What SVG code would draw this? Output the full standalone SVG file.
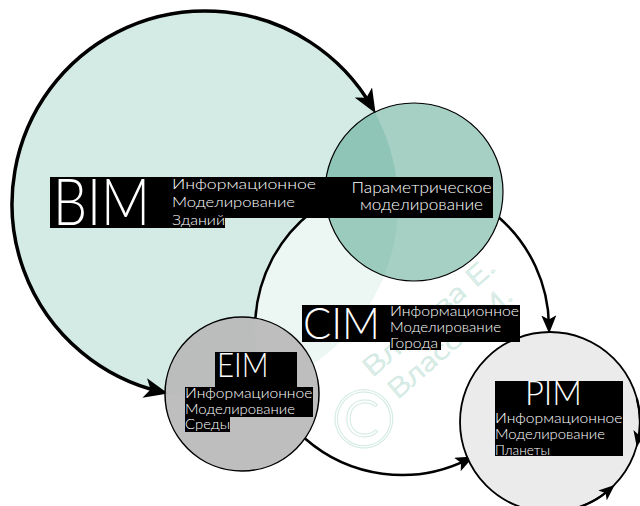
<svg xmlns="http://www.w3.org/2000/svg" width="640" height="506" viewBox="0 0 640 506">
<style>
.lbl{fill:#fff;font-family:Lato,"Liberation Sans",sans-serif;font-weight:300}
.big{fill:#fff;font-family:Lato,"Liberation Sans",sans-serif;font-weight:300}
.box{fill:#000}
.wm{fill:none;stroke:#d3eae3;stroke-width:1;font-family:Lato,"Liberation Sans",sans-serif;font-weight:300}
.arcL{fill:none;stroke:#000;stroke-width:3.5}
.arcM{fill:none;stroke:#000;stroke-width:2.5}
.arcS{fill:none;stroke:#000;stroke-width:2.2}
</style>
<defs>
<marker id="ahL" markerUnits="userSpaceOnUse" markerWidth="24" markerHeight="20" viewBox="0 0 24 20" refX="16" refY="10" orient="auto-start-reverse"><path d="M0,0 L24,10 L0,20 L6,10 Z" fill="#000"/></marker>
<marker id="ahM" markerUnits="userSpaceOnUse" markerWidth="18" markerHeight="15" viewBox="0 0 18 15" refX="10" refY="7.5" orient="auto"><path d="M0,0 L18,7.5 L0,15 L4,7.5 Z" fill="#000"/></marker>
<marker id="ahS" markerUnits="userSpaceOnUse" markerWidth="16" markerHeight="13" viewBox="0 0 16 13" refX="8" refY="6.5" orient="auto"><path d="M0,0 L16,6.5 L0,13 L4,6.5 Z" fill="#000"/></marker>
</defs>
<rect width="640" height="506" fill="#fff"/>
<g id="bim">
<circle cx="205" cy="204" r="193" fill="#d4ebe5"/>
</g>
<g id="cim">
<circle cx="402" cy="328" r="147" fill="#fff" fill-opacity="0.55"/>
</g>
<g id="connectors">
<path class="arcL" d="M371.5,106.3 A193,193 0 1 0 160.3,391.7" marker-start="url(#ahL)" marker-end="url(#ahL)"/>
<path class="arcM" d="M311.7,212 A147,147 0 0 0 255.4,318.1"/>
<path class="arcM" d="M305,438.5 A147,147 0 0 0 466.4,460.1" marker-end="url(#ahM)"/>
<path class="arcM" d="M499.2,217.7 A147,147 0 0 1 549,325.4" marker-end="url(#ahM)"/>
</g>
<g id="param">
<circle cx="414" cy="192" r="89" fill="#3a977c" fill-opacity="0.45" stroke="#000" stroke-width="1.2"/>
</g>
<g id="eim">
<circle cx="242" cy="394" r="77" fill="#b8b8b8" fill-opacity="0.92" stroke="#000" stroke-width="1.5"/>
</g>
<g id="pim">
<circle cx="550" cy="422" r="90" fill="#ebebeb" stroke="#000" stroke-width="1.8"/>
<path class="arcS" d="M636.9,398.7 A90,90 0 0 1 638.3,439.2" marker-end="url(#ahS)"/>
<path class="arcS" d="M565.6,510.6 A90,90 0 0 0 608.6,490.3" marker-end="url(#ahS)"/>
</g>
<g id="watermark">
<text class="wm" font-size="26" transform="translate(372,378) rotate(-41)" textLength="165" lengthAdjust="spacingAndGlyphs">Власова Е.</text>
<text class="wm" font-size="26" transform="translate(397,400) rotate(-41)" textLength="155" lengthAdjust="spacingAndGlyphs">Власов М.</text>
<text class="wm" font-size="80" text-anchor="middle" x="364" y="447">©</text>
</g>
<g id="bim-label">
<path class="box" d="M50,177 H493 V218 H225 V228 H50 Z"/>
<text class="big" x="53" y="225" font-size="65" textLength="97" lengthAdjust="spacingAndGlyphs">BIM</text>
<text class="lbl" x="172" y="188.5" font-size="14" textLength="144" lengthAdjust="spacingAndGlyphs">Информационное</text>
<text class="lbl" x="172" y="207" font-size="14" textLength="123" lengthAdjust="spacingAndGlyphs">Моделирование</text>
<text class="lbl" x="172" y="224.5" font-size="14" textLength="53" lengthAdjust="spacingAndGlyphs">Зданий</text>
</g>
<g id="param-label">
<text class="lbl" x="351.5" y="192.5" font-size="15" textLength="140" lengthAdjust="spacingAndGlyphs">Параметрическое</text>
<text class="lbl" x="360" y="209.5" font-size="15" textLength="123" lengthAdjust="spacingAndGlyphs">моделирование</text>
</g>
<g id="cim-label">
<path class="box" d="M302,305 H520 V342 H441 V350 H390 V342 H302 Z"/>
<text class="big" x="303" y="338.5" font-size="44" textLength="77" lengthAdjust="spacingAndGlyphs">CIM</text>
<text class="lbl" x="390" y="316" font-size="13" textLength="129" lengthAdjust="spacingAndGlyphs">Информационное</text>
<text class="lbl" x="390" y="332" font-size="13" textLength="111" lengthAdjust="spacingAndGlyphs">Моделирование</text>
<text class="lbl" x="390" y="348" font-size="13" textLength="48" lengthAdjust="spacingAndGlyphs">Города</text>
</g>
<g id="eim-label">
<path class="box" d="M215,352 H297 V387 H313 V417 H230 V432 H185 V387 H215 Z"/>
<text class="big" x="217" y="376.7" font-size="33" textLength="51.6" lengthAdjust="spacingAndGlyphs">EIM</text>
<text class="lbl" x="185" y="398.3" font-size="13" textLength="127.4" lengthAdjust="spacingAndGlyphs">Информационное</text>
<text class="lbl" x="185" y="413.7" font-size="13" textLength="110" lengthAdjust="spacingAndGlyphs">Моделирование</text>
<text class="lbl" x="185" y="429.3" font-size="13" textLength="45" lengthAdjust="spacingAndGlyphs">Среды</text>
</g>
<g id="pim-label">
<rect class="box" x="495" y="381" width="128" height="75"/>
<text class="big" x="525" y="405" font-size="33" textLength="57" lengthAdjust="spacingAndGlyphs">PIM</text>
<text class="lbl" x="495" y="423" font-size="13" textLength="127.5" lengthAdjust="spacingAndGlyphs">Информационное</text>
<text class="lbl" x="495" y="439" font-size="13" textLength="110" lengthAdjust="spacingAndGlyphs">Моделирование</text>
<text class="lbl" x="495" y="455" font-size="13" textLength="55" lengthAdjust="spacingAndGlyphs">Планеты</text>
</g>
</svg>
